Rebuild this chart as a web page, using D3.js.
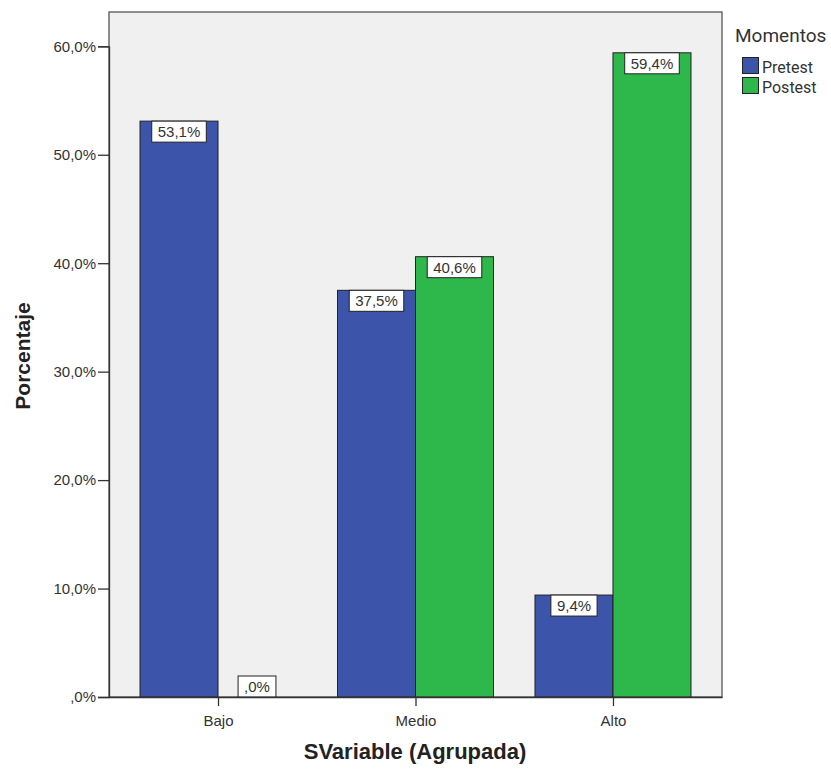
<!DOCTYPE html>
<html>
<head>
<meta charset="utf-8">
<script src="https://cdn.jsdelivr.net/npm/d3@7"></script>
<style>
  body { margin: 0; background: #fff; }
  svg { display: block; font-family: "Liberation Sans", Arial, sans-serif; }
</style>
</head>
<body>
<svg id="chart" width="831" height="771"></svg>
<script>
// Grouped levels of the variable and the two measurement moments
const categories = ["Bajo", "Medio", "Alto"];
const seriesNames = ["Pretest", "Postest"];
const pretest = [53.1, 37.5, 9.4];
const postest = [0.0, 40.6, 59.4];
const yTicks = [0, 10, 20, 30, 40, 50, 60];
const seriesColors = ["#3c55aa", "#2eb84b"];

const svg = d3.select("#chart");
const plotLeft = 109, plotRight = 722, plotTop = 12, plotBottom = 697;

const x = d3.scalePoint().domain(categories).range([plotLeft, plotRight]).padding(0.552);
const barW = 78;
const xs = d3.scaleBand().domain(seriesNames).range([-barW, barW]);
const y = d3.scaleLinear().domain([0, 60]).range([plotBottom, 46.3]);

const fmt = v => {
  const s = v.toFixed(1).replace(".", ",");
  return (s.startsWith("0,") ? s.slice(1) : s) + "%";
};

// plot frame
svg.append("rect")
  .attr("x", plotLeft).attr("y", plotTop)
  .attr("width", plotRight - plotLeft).attr("height", plotBottom - plotTop)
  .attr("fill", "#f0f0f0").attr("stroke", "#555").attr("stroke-width", 1.3);

const rows = categories.map((c, i) => ({ cat: c, values: [pretest[i], postest[i]] }));

const g = svg.append("g");
rows.forEach(r => {
  r.values.forEach((v, j) => {
    const x0 = x(r.cat) + xs(seriesNames[j]);
    if (v > 0) {
      g.append("rect")
        .attr("x", x0).attr("y", y(v))
        .attr("width", xs.bandwidth()).attr("height", y(0) - y(v))
        .attr("fill", seriesColors[j]).attr("stroke", "#222").attr("stroke-width", 1);
    }
  });
});

// value labels in white boxes
rows.forEach(r => {
  r.values.forEach((v, j) => {
    const cx = x(r.cat) + xs(seriesNames[j]) + xs.bandwidth() / 2;
    const txt = fmt(v);
    const bh = 21;
    const by = Math.min(y(v), y(0) - bh);
    const box = g.append("rect")
      .attr("y", by).attr("height", bh)
      .attr("fill", "#fff").attr("stroke", "#222").attr("stroke-width", 1);
    const t = g.append("text")
      .attr("x", cx).attr("y", by + 16)
      .attr("text-anchor", "middle")
      .attr("font-size", 15).attr("fill", "#333")
      .text(txt);
    const bw = t.node().getComputedTextLength() + 12;
    box.attr("x", cx - bw / 2).attr("width", bw);
  });
});

// y axis
const yAxis = svg.append("g").attr("transform", `translate(${plotLeft},0)`)
  .call(d3.axisLeft(y).tickValues(yTicks).tickSize(11).tickPadding(2).tickFormat(fmt));
yAxis.select(".domain").attr("stroke", "#333").attr("stroke-width", 1.3);
yAxis.selectAll(".tick line").attr("stroke", "#333").attr("stroke-width", 1.3);
yAxis.selectAll(".tick text").attr("font-size", 15).attr("fill", "#333")
  .attr("font-family", "Liberation Sans, Arial, sans-serif");

// x axis
const xAxis = svg.append("g").attr("transform", `translate(0,${plotBottom})`)
  .call(d3.axisBottom(x).tickSize(9).tickSizeOuter(0));
xAxis.select(".domain").attr("stroke", "#333").attr("stroke-width", 1.3);
xAxis.selectAll(".tick line").attr("stroke", "#333").attr("stroke-width", 1.3);
xAxis.selectAll(".tick text").attr("font-size", 15).attr("fill", "#333")
  .attr("font-family", "Liberation Sans, Arial, sans-serif").attr("dy", "1.1em");

// axis titles
svg.append("text")
  .attr("transform", "translate(30,356) rotate(-90)")
  .attr("text-anchor", "middle").attr("font-size", 21).attr("font-weight", "bold").attr("fill", "#222")
  .text("Porcentaje");
svg.append("text")
  .attr("x", 415).attr("y", 759)
  .attr("text-anchor", "middle").attr("font-size", 22).attr("font-weight", "bold").attr("fill", "#222")
  .text("SVariable (Agrupada)");

// legend
const lg = svg.append("g");
lg.append("text").attr("x", 735).attr("y", 42).attr("font-size", 19).attr("fill", "#333")
  .attr("font-family", "Roboto, Liberation Sans, sans-serif").text("Momentos");
seriesNames.forEach((s, i) => {
  lg.append("rect").attr("x", 742.5).attr("y", 57.5 + i * 20).attr("width", 16).attr("height", 16)
    .attr("fill", seriesColors[i]).attr("stroke", "#222").attr("stroke-width", 1);
  lg.append("text").attr("x", 762).attr("y", 72.5 + i * 20).attr("font-size", 16).attr("fill", "#333")
    .attr("font-family", "Roboto, Liberation Sans, sans-serif").text(s);
});
</script>
</body>
</html>
